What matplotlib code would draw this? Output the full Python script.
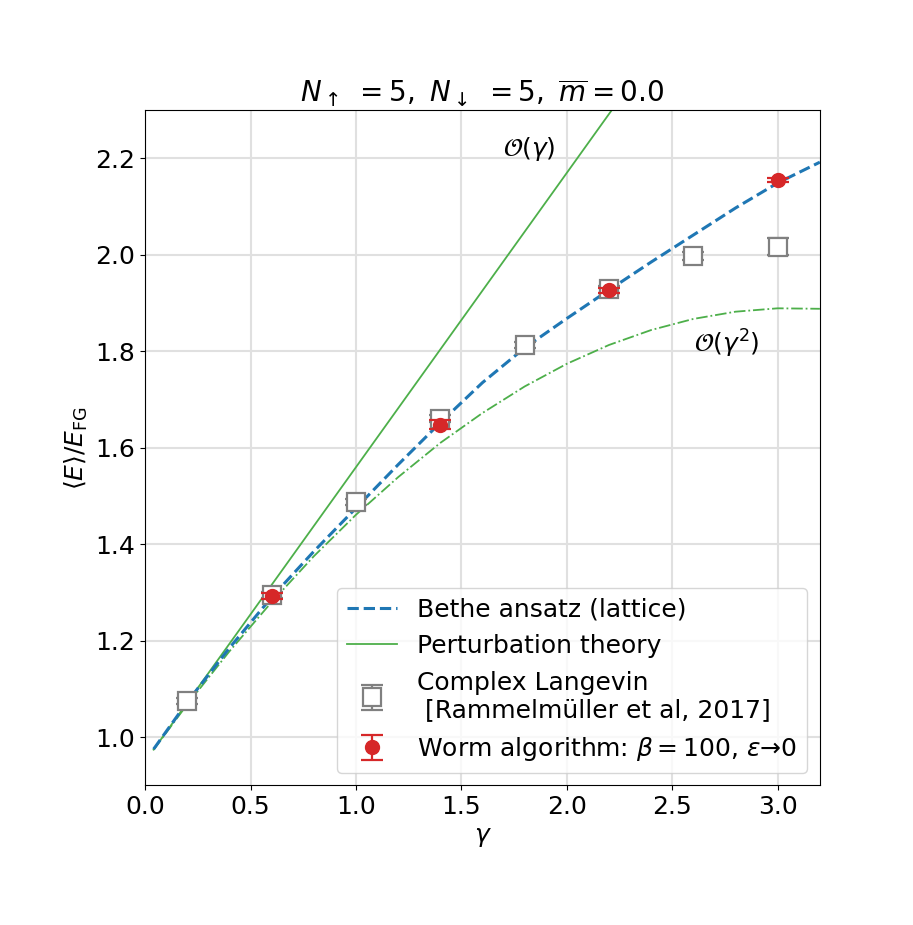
import numpy as np
import matplotlib.pyplot as plt

# Bethe ansatz (lattice) curve
gamma_ba = [0.04, 0.2, 0.4, 0.6, 0.8, 1.0, 1.2, 1.4, 1.6, 1.8, 2.0, 2.2, 2.4, 2.6, 2.8, 3.0, 3.2]
E_ba = [0.975, 1.073, 1.185, 1.290, 1.385, 1.475, 1.565, 1.652, 1.735, 1.807, 1.868, 1.927,
        1.985, 2.041, 2.097, 2.149, 2.192]

# perturbation theory, first order (straight line) and second order
gamma_pt1 = [0.04, 2.4]
E_pt1 = [0.974, 2.414]
gamma_pt2 = [0.04, 0.2, 0.4, 0.6, 0.8, 1.0, 1.2, 1.4, 1.6, 1.8, 2.0, 2.2, 2.4, 2.6, 2.8, 3.0, 3.2]
E_pt2 = [0.974, 1.068, 1.178, 1.280, 1.375, 1.461, 1.539, 1.610, 1.672, 1.727, 1.774, 1.813,
         1.844, 1.867, 1.882, 1.889, 1.888]

# Complex Langevin [Rammelmueller et al, 2017]
gamma_cl = [0.2, 0.6, 1.0, 1.4, 1.8, 2.2, 2.6, 3.0]
E_cl = [1.075, 1.295, 1.488, 1.660, 1.813, 1.928, 1.997, 2.017]
err_cl = [0.006, 0.006, 0.006, 0.007, 0.006, 0.007, 0.008, 0.017]

# Worm algorithm
gamma_worm = [0.6, 1.4, 2.2, 3.0]
E_worm = [1.293, 1.648, 1.926, 2.155]
err_worm = [0.006, 0.010, 0.006, 0.005]

plt.rcParams['font.size'] = 18
plt.rcParams['mathtext.fontset'] = 'dejavusans'

fig = plt.figure(figsize=(9.13, 9.25), dpi=100)
ax = fig.add_axes([0.159, 0.151, 0.739, 0.730])

ax.plot(gamma_ba, E_ba, '--', color='#1f77b4', lw=2.2, label='Bethe ansatz (lattice)', zorder=3)
ax.plot(gamma_pt1, E_pt1, '-', color='#4daf4a', lw=1.3, label='Perturbation theory', zorder=2)
ax.plot(gamma_pt2, E_pt2, '-.', color='#4daf4a', lw=1.3, zorder=2)
ax.errorbar(gamma_cl, E_cl, yerr=err_cl, fmt='s', color='gray', mfc='white', mec='gray',
            ms=13, mew=1.6, capsize=8, elinewidth=1.6, capthick=1.6,
            label='Complex Langevin\n [Rammelmüller et al, 2017]', zorder=4)
ax.errorbar(gamma_worm, E_worm, yerr=err_worm, fmt='o', color='#d62728', ms=10,
            capsize=8, elinewidth=1.6, capthick=1.6,
            label=r'Worm algorithm: $\beta=100$, $\varepsilon$→0', zorder=5)

ax.text(1.82, 2.219, r'$\mathcal{O}(\gamma)$', ha='center', va='center')
ax.text(2.76, 1.815, r'$\mathcal{O}(\gamma^2)$', ha='center', va='center')

ax.set_xlim(0, 3.2)
ax.set_ylim(0.9, 2.3)
ax.set_xticks([0.0, 0.5, 1.0, 1.5, 2.0, 2.5, 3.0])
ax.set_yticks([1.0, 1.2, 1.4, 1.6, 1.8, 2.0, 2.2])
ax.grid(True, color='#e0e0e0', lw=1.5)
ax.set_axisbelow(True)
ax.set_xlabel(r'$\gamma$')
ax.set_ylabel(r'$\langle E\rangle/E_{\rm FG}$')
ax.set_title(r'$N_\uparrow\ =5,\ N_\downarrow\ =5,\ \overline{m}=0.0$', fontsize=20)
ax.legend(loc='lower right')

fig.savefig('out.png', dpi=100)
